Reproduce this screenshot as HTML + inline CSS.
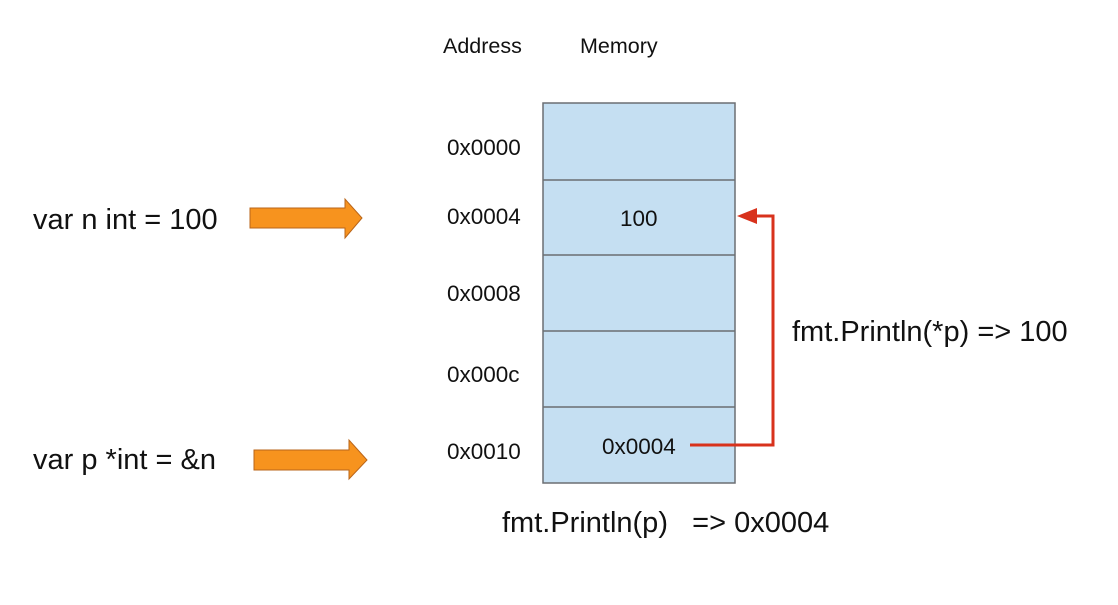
<!DOCTYPE html>
<html><head><style>
body{margin:0;width:1118px;height:600px;background:#fff;overflow:hidden;font-family:"Liberation Sans",Arial,sans-serif;}
</style></head><body>
<svg width="1118" height="600" xmlns="http://www.w3.org/2000/svg" font-family="Liberation Sans, Arial, sans-serif">
<text x="443" y="53" font-size="21.5" fill="#111">Address</text>
<text x="580" y="53" font-size="21.5" fill="#111">Memory</text>
<rect x="543" y="103" width="192" height="380" fill="#c5dff2" stroke="#6b6f73" stroke-width="1.5"/>
<g stroke="#6b6f73" stroke-width="1.5">
<line x1="543" y1="180" x2="735" y2="180"/><line x1="543" y1="255" x2="735" y2="255"/>
<line x1="543" y1="331" x2="735" y2="331"/><line x1="543" y1="407" x2="735" y2="407"/>
</g>
<g font-size="22.5" fill="#111">
<text x="447" y="155">0x0000</text><text x="447" y="224">0x0004</text>
<text x="447" y="301">0x0008</text><text x="447" y="382">0x000c</text>
<text x="447" y="459">0x0010</text>
<text x="620" y="226">100</text><text x="602" y="454">0x0004</text>
</g>
<g font-size="29" fill="#111">
<text x="33" y="229">var n int = 100</text>
<text x="33" y="469">var p *int = &amp;n</text>
<text x="792" y="341">fmt.Println(*p) =&gt; 100</text>
<text x="502" y="532" xml:space="preserve">fmt.Println(p)   =&gt; 0x0004</text>
</g>
<polygon points="250,208 345,208 345,199 362,218 345,238 345,228 250,228" fill="#f7931e" stroke="#b9651a" stroke-width="1"/>
<polygon points="254,450 349,450 349,440 367,460 349,479 349,470 254,470" fill="#f7931e" stroke="#b9651a" stroke-width="1"/>
<polyline points="690,445 773,445 773,216 755,216" fill="none" stroke="#d8321c" stroke-width="3"/>
<polygon points="737,216 757,208 757,224" fill="#d8321c"/>
</svg>
</body></html>
